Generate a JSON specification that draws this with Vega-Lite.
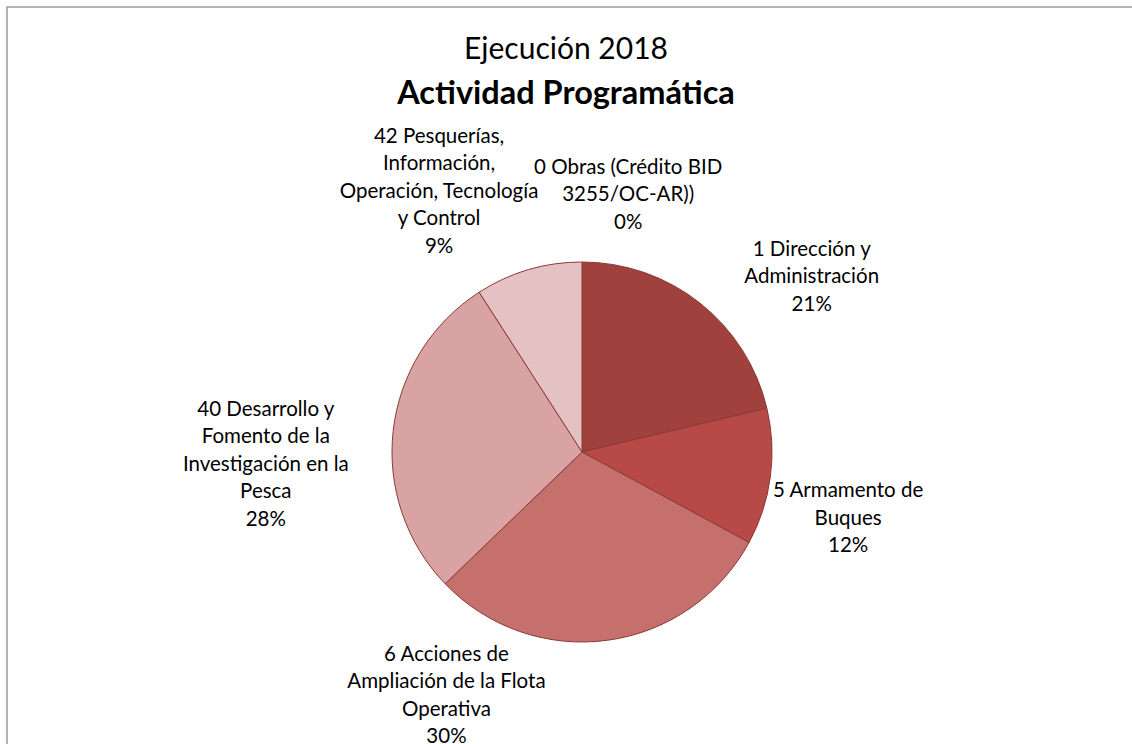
{
  "$schema": "https://vega.github.io/schema/vega-lite/v6.json",
  "autosize": {"type": "none"},
  "width": 1150,
  "height": 890,
  "padding": {"left": 7, "top": 7, "right": -25, "bottom": -153},
  "background": "white",
  "view": {"stroke": "#9b9b9b", "strokeWidth": 1.5, "fill": "white"},
  "title": {
    "text": "Ejecución 2018",
    "subtitle": "Actividad Programática",
    "anchor": "middle",
    "frame": "group",
    "dx": -16,
    "offset": -103,
    "font": "Lato",
    "fontSize": 30,
    "fontWeight": "normal",
    "color": "#000000",
    "subtitleFont": "Lato",
    "subtitleFontSize": 32.5,
    "subtitleFontWeight": "bold",
    "subtitleColor": "#000000",
    "subtitlePadding": 13
  },
  "config": {"view": {"stroke": "#9b9b9b", "strokeWidth": 1.5}},
  "data": {
    "values": [
      {"codigo": 0, "nombre": "0 Obras (Crédito BID|3255/OC-AR))", "valor": 0},
      {"codigo": 1, "nombre": "1 Dirección y|Administración", "valor": 21.3},
      {"codigo": 5, "nombre": "5 Armamento de|Buques", "valor": 11.6},
      {"codigo": 6, "nombre": "6 Acciones de|Ampliación de la Flota|Operativa", "valor": 29.9},
      {"codigo": 40, "nombre": "40 Desarrollo y|Fomento de la|Investigación en la|Pesca", "valor": 28.1},
      {"codigo": 42, "nombre": "42 Pesquerías,|Información,|Operación, Tecnología|y Control", "valor": 9.1}
    ]
  },
  "transform": [
    {"calculate": "split(datum.nombre + '|' + round(datum.valor) + '%', '|')", "as": "etiqueta"}
  ],
  "encoding": {
    "theta": {"field": "valor", "type": "quantitative", "stack": true},
    "order": {"field": "codigo", "type": "quantitative", "sort": "ascending"}
  },
  "layer": [
    {
      "mark": {"type": "arc", "outerRadius": 190, "stroke": "#8a3a38", "strokeWidth": 1},
      "encoding": {
        "color": {
          "field": "codigo",
          "type": "nominal",
          "scale": {"domain": [0, 1, 5, 6, 40, 42], "range": ["#a3403d", "#a1413e", "#b74a47", "#c6706e", "#d8a3a2", "#e4c1c2"]},
          "legend": null
        }
      }
    },
    {
      "mark": {"type": "text", "radius": 288, "thetaOffset": 0.161, "font": "Lato", "fontSize": 20.5, "lineHeight": 27.5, "align": "center", "baseline": "middle", "color": "#000000"},
      "encoding": {"text": {"condition": {"test": "datum.codigo === 0", "field": "etiqueta"}, "value": ""}}
    },
    {
      "mark": {"type": "text", "radius": 306, "thetaOffset": 0.18, "font": "Lato", "fontSize": 20.5, "lineHeight": 27.5, "align": "center", "baseline": "middle", "color": "#000000"},
      "encoding": {"text": {"condition": {"test": "datum.codigo === 1", "field": "etiqueta"}, "value": ""}}
    },
    {
      "mark": {"type": "text", "radius": 269, "thetaOffset": 0.014, "font": "Lato", "fontSize": 20.5, "lineHeight": 27.5, "align": "center", "baseline": "middle", "color": "#000000"},
      "encoding": {"text": {"condition": {"test": "datum.codigo === 5", "field": "etiqueta"}, "value": ""}}
    },
    {
      "mark": {"type": "text", "radius": 244, "thetaOffset": 0.724, "font": "Lato", "fontSize": 20.5, "lineHeight": 27.5, "align": "center", "baseline": "middle", "color": "#000000"},
      "encoding": {"text": {"condition": {"test": "datum.codigo === 6", "field": "etiqueta"}, "value": ""}}
    },
    {
      "mark": {"type": "text", "radius": 319, "thetaOffset": 0.017, "font": "Lato", "fontSize": 20.5, "lineHeight": 27.5, "align": "center", "baseline": "middle", "color": "#000000"},
      "encoding": {"text": {"condition": {"test": "datum.codigo === 40", "field": "etiqueta"}, "value": ""}}
    },
    {
      "mark": {"type": "text", "radius": 346, "thetaOffset": -0.14, "font": "Lato", "fontSize": 20.5, "lineHeight": 27.5, "align": "center", "baseline": "middle", "color": "#000000"},
      "encoding": {"text": {"condition": {"test": "datum.codigo === 42", "field": "etiqueta"}, "value": ""}}
    }
  ]
}
